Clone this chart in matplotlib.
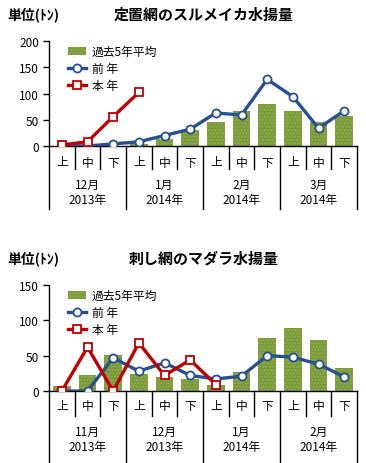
import matplotlib.pyplot as plt
from matplotlib.lines import Line2D
from matplotlib.patches import Patch
import matplotlib.transforms as mtransforms

plt.rcParams['font.family'] = ['Noto Sans CJK JP', 'DejaVu Sans']

# categories (decades of the month)
thirds = ["上", "中", "下"] * 4

# top chart: set net, surume squid
top_months = ["12月\n2013年", "1月\n2014年", "2月\n2014年", "3月\n2014年"]
top_avg5 = [0, 0, 0, 4, 14, 31, 45, 67, 80, 67, 45, 57]
top_prev = [1, 0, 4, 8, 20, 32, 63, 59, 127, 94, 34, 67]
top_curr = [2, 8, 56, 102]

# bottom chart: gill net, Pacific cod
bot_months = ["11月\n2013年", "12月\n2013年", "1月\n2014年", "2月\n2014年"]
bot_avg5 = [7.5, 22, 51, 24, 20, 17, 8, 27, 75, 89, 72, 33]
bot_prev = [0, 0, 47, 28, 40, 22, 17, 21, 50, 48, 38, 20]
bot_curr = [0, 62, 0, 68, 22, 44, 9]

BAR = '#7b9a3a'
BLUE = '#27508f'
RED = '#c00000'

W, H = 366, 464
fig = plt.figure(figsize=(W / 100, H / 100), dpi=100)


def panel(top_px, bot_px, avg5, prev, curr, ymax, ystep, months, title,
          lab1_px, sep1_px, mon_px, sep2_px):
    ax = fig.add_axes([49 / W, 1 - bot_px / H, 308 / W, (bot_px - top_px) / H])
    n = len(thirds)
    x = list(range(n))
    ax.bar(x, avg5, width=0.68, color=BAR, hatch='.....', edgecolor='#8fae4e',
           linewidth=0, zorder=1)
    ax.plot(x[:len(prev)], prev, color=BLUE, lw=2.4, marker='o', ms=5.8,
            mfc='white', mec=BLUE, mew=1.3, zorder=3)
    ax.plot(x[:len(curr)], curr, color=RED, lw=2.4, marker='s', ms=5.8,
            mfc='white', mec=RED, mew=1.3, zorder=4)
    ax.set_xlim(-0.5, n - 0.5)
    ax.set_ylim(0, ymax)
    ax.set_yticks(range(0, ymax + 1, ystep))
    ax.tick_params(axis='y', direction='out', length=4, width=1, labelsize=8.5,
                   pad=3, colors='black')
    ax.set_xticks([])
    for s in ['top', 'right']:
        ax.spines[s].set_visible(False)
    for s in ['left', 'bottom']:
        ax.spines[s].set_linewidth(1)
        ax.spines[s].set_color('black')

    hpx = bot_px - top_px
    tr = mtransforms.blended_transform_factory(ax.transData, ax.transAxes)

    def ay(py):
        return (bot_px - py) / hpx

    for i, t in enumerate(thirds):
        ax.text(i, ay(lab1_px), t, transform=tr, ha='center', va='center',
                fontsize=8.5)
    for j, m in enumerate(months):
        ax.text(3 * j + 1, ay(mon_px), m, transform=tr, ha='center',
                va='center', fontsize=8.5, linespacing=1.25)
    for b in range(n + 1):
        if b % 3 == 0:
            y2 = ay(sep2_px)
        else:
            y2 = ay(sep1_px)
        ax.plot([b - 0.5, b - 0.5], [0, y2], transform=tr, color='black',
                lw=1, clip_on=False)

    handles = [Patch(facecolor=BAR, edgecolor='#8fae4e', hatch='.....', lw=0),
               Line2D([], [], color=BLUE, lw=2.4, marker='o', ms=5.8,
                      mfc='white', mec=BLUE, mew=1.3),
               Line2D([], [], color=RED, lw=2.4, marker='s', ms=5.8,
                      mfc='white', mec=RED, mew=1.3)]
    ax.legend(handles, ["過去5年平均", "前 年", "本 年"], loc='upper left',
              bbox_to_anchor=(0.035, 1.04), frameon=False, fontsize=8.5,
              handlelength=1.5, handleheight=0.7, handletextpad=0.5,
              labelspacing=0.35, borderpad=0.2)

    fig.text(7 / W, 1 - (top_px - 27) / H, "単位(ﾄﾝ)", fontsize=10,
             fontweight='bold', va='center', ha='left')
    fig.text(204 / W, 1 - (top_px - 27) / H, title, fontsize=10.8,
             fontweight='bold', va='center', ha='center')
    return ax


panel(42, 147, top_avg5, top_prev, top_curr, 200, 50, top_months,
      "定置網のスルメイカ水揚量", 163, 170, 193, 210)
panel(286, 392, bot_avg5, bot_prev, bot_curr, 150, 50, bot_months,
      "刺し網のマダラ水揚量", 407, 417, 440, 464)

fig.savefig('out.png', dpi=100)
